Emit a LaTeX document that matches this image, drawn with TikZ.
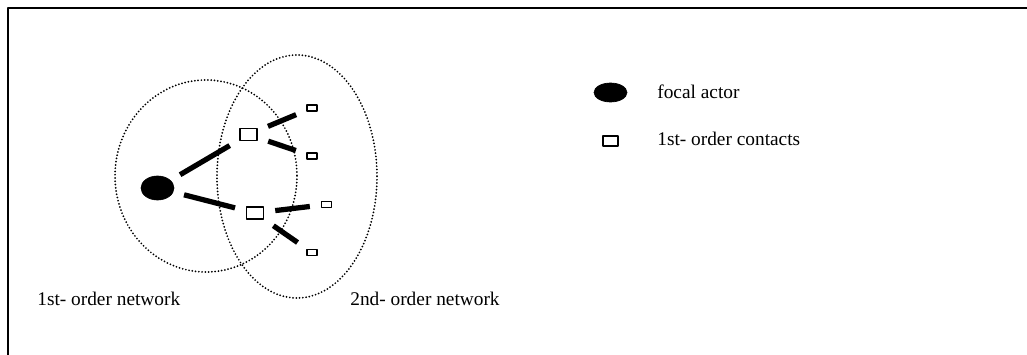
\documentclass[tikz,border=0pt]{standalone}
\usepackage{fontspec}
\setmainfont{Liberation Serif}
\usetikzlibrary{shapes.geometric}
\def\px{0.61pt}
\tikzset{
	actor/.style={ellipse,fill=black,draw=black,inner sep=0pt,minimum width=33*\px,minimum height=24*\px},
	contact/.style={rectangle,draw=black,line width=1pt,fill=white,inner sep=0pt,minimum width=17*\px,minimum height=12*\px},
	farcontact/.style={contact,line width=0.9pt,minimum width=10*\px,minimum height=6*\px},
	tie/.style={line width=3.2pt,shorten <=11*\px,shorten >=11*\px},
	zone/.style={line width=1.2pt,line cap=round,dash pattern=on 0pt off 2pt},
	caption/.style={anchor=base west,inner sep=0pt}
}
\begin{document}
\begin{tikzpicture}[x=\px,y=-\px,line join=round,font=\fontsize{11.8}{14}\selectfont]
			\useasboundingbox (0,0) rectangle (1027,355);
			\draw[line width=1.2pt] (8,355)--(8,8)--(1027,8);
			\coordinate (O1) at (206,176);
			\coordinate (O2) at (297,176.5);
			\draw[zone] (O1) ellipse [x radius=91,y radius=96];
			\draw[zone] (O2) ellipse [x radius=80,y radius=121.5];
			\node[actor] (F) at (157.5,188) {};
			\node[contact] (C1) at (248.5,134.5) {};
			\node[contact] (C2) at (255,213) {};
			\node[farcontact] (S1) at (312,108) {};
			\node[farcontact] (S2) at (312,156) {};
			\node[farcontact] (S3) at (326.5,204.5) {};
			\node[farcontact] (S4) at (312,252.5) {};
			\draw[tie] (F)--(C1);
			\draw[tie] (F)--(C2);
			\draw[tie] (C1)--(S1);
			\draw[tie] (C1)--(S2);
			\draw[tie] (C2)--(S3);
			\draw[tie] (C2)--(S4);
			\node[caption] (N1) at (37,305) {1st- order network};
			\node[caption] (N2) at (350,305) {2nd- order network};
			\node[actor,minimum height=19*\px] (LF) at (610.5,92.5) {};
			\node[contact,minimum width=15*\px,minimum height=10*\px] (LC) at (610.5,141) {};
			\node[caption] (TF) at (657,99) {focal actor};
			\node[caption] (TC) at (657,146) {1st- order contacts};
		\end{tikzpicture}
\end{document}
